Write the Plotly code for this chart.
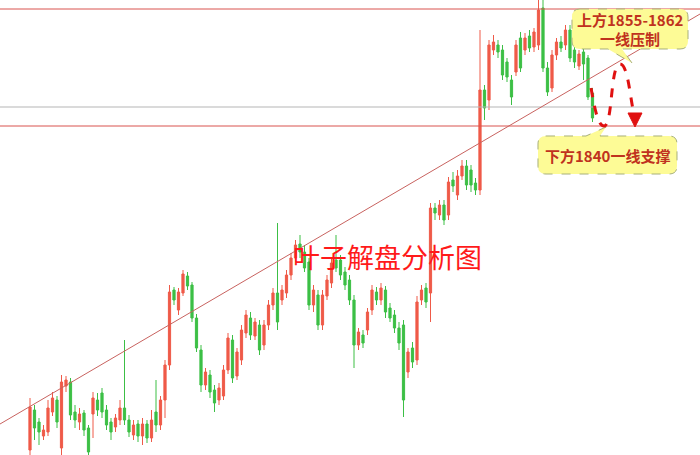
import plotly.graph_objects as go

W, H = 700, 455

# ---- candle data (price units) ----
open_ = [1775.2, 1783.2, 1780.8, 1778.0, 1778.8, 1782.8, 1785.2, 1775.6, 1788.0, 1788.8,
         1782.8, 1780.8, 1782.6, 1779.6, 1782.4, 1785.2, 1786.6, 1783.2, 1780.8, 1779.8,
         1781.2, 1783.6, 1781.2, 1778.2, 1780.4, 1778.0, 1780.4, 1777.6, 1782.8, 1780.2,
         1785.2, 1792.2, 1807.2, 1803.2, 1806.6, 1810.0, 1808.2, 1801.6, 1795.2, 1788.2,
         1790.2, 1787.2, 1785.2, 1786.0, 1791.2, 1797.2, 1790.0, 1793.2, 1798.6, 1801.6,
         1798.0, 1800.2, 1796.2, 1800.2, 1804.2, 1806.6, 1805.2, 1806.6, 1810.2, 1813.6,
         1816.4, 1814.8, 1812.8, 1804.2, 1806.2, 1800.2, 1806.0, 1808.6, 1813.2, 1813.2,
         1810.8, 1809.2, 1805.2, 1796.2, 1798.2, 1799.2, 1803.2, 1806.8, 1805.2, 1807.2,
         1803.6, 1802.2, 1799.6, 1800.2, 1790.8, 1795.6, 1793.2, 1805.2, 1807.6, 1806.6,
         1823.6, 1822.2, 1824.2, 1822.2, 1829.2, 1826.2, 1830.0, 1832.0, 1831.2, 1828.6,
         1827.2, 1847.2, 1845.2, 1855.2, 1856.2, 1855.2, 1852.8, 1849.2, 1850.8, 1857.6,
         1855.2, 1858.0, 1855.8, 1856.2, 1863.6, 1851.6, 1847.6, 1854.2, 1856.8, 1856.2,
         1859.2, 1855.2, 1852.0, 1854.8, 1853.6, 1846.6]
high_ = [1785.6, 1784.2, 1781.6, 1780.2, 1785.2, 1786.8, 1786.0, 1790.2, 1790.0, 1789.6,
         1784.2, 1783.6, 1783.2, 1780.2, 1786.8, 1786.6, 1787.6, 1784.2, 1781.6, 1782.4,
         1785.2, 1797.2, 1782.2, 1781.2, 1781.2, 1781.6, 1781.2, 1783.2, 1789.2, 1786.0,
         1793.2, 1808.2, 1807.8, 1807.6, 1811.2, 1810.8, 1808.8, 1802.4, 1796.2, 1791.6,
         1791.2, 1788.2, 1788.6, 1792.2, 1798.6, 1798.2, 1795.6, 1800.2, 1803.2, 1802.8,
         1801.6, 1801.2, 1801.2, 1805.2, 1807.6, 1820.6, 1808.2, 1811.2, 1814.6, 1817.2,
         1818.2, 1816.2, 1813.6, 1808.2, 1807.2, 1807.2, 1810.2, 1813.6, 1818.2, 1814.2,
         1811.8, 1810.2, 1806.2, 1799.6, 1799.2, 1803.6, 1808.2, 1807.8, 1808.6, 1808.0,
         1804.6, 1803.2, 1800.8, 1801.2, 1795.6, 1796.8, 1806.0, 1808.2, 1808.6, 1824.6,
         1824.6, 1825.2, 1825.2, 1829.8, 1830.8, 1831.2, 1833.2, 1833.2, 1832.2, 1829.6,
         1859.2, 1848.2, 1857.2, 1858.2, 1857.2, 1856.2, 1853.6, 1850.2, 1857.2, 1858.8,
         1858.6, 1859.2, 1859.6, 1866.0, 1866.0, 1852.8, 1855.2, 1857.6, 1858.0, 1860.2,
         1860.2, 1856.2, 1855.2, 1855.6, 1854.2, 1847.6]
low_ = [1773.0, 1777.2, 1776.2, 1777.2, 1778.0, 1782.0, 1779.6, 1774.0, 1786.8, 1781.2,
        1779.6, 1779.2, 1778.0, 1772.8, 1777.6, 1782.0, 1781.6, 1779.2, 1777.2, 1778.8,
        1780.2, 1780.2, 1777.8, 1777.2, 1776.8, 1776.2, 1776.6, 1776.8, 1778.8, 1779.2,
        1781.6, 1791.2, 1804.2, 1802.2, 1806.0, 1807.2, 1800.8, 1794.8, 1786.8, 1787.2,
        1785.6, 1782.8, 1784.2, 1785.2, 1790.4, 1788.6, 1789.2, 1792.2, 1797.6, 1797.2,
        1797.2, 1794.2, 1795.2, 1799.2, 1803.2, 1799.2, 1804.2, 1805.6, 1809.2, 1812.8,
        1813.6, 1810.8, 1803.2, 1802.8, 1799.2, 1799.2, 1805.2, 1807.6, 1810.8, 1809.2,
        1807.2, 1804.2, 1791.6, 1795.2, 1795.6, 1798.2, 1802.2, 1804.2, 1804.2, 1801.6,
        1800.8, 1798.6, 1795.2, 1781.8, 1789.6, 1791.6, 1792.2, 1804.2, 1803.6, 1800.8,
        1821.2, 1821.2, 1820.2, 1821.2, 1826.8, 1825.2, 1829.2, 1827.2, 1826.8, 1826.2,
        1826.2, 1841.2, 1843.2, 1854.2, 1853.6, 1849.2, 1848.8, 1844.2, 1850.0, 1850.8,
        1854.2, 1854.8, 1854.8, 1855.2, 1850.8, 1846.0, 1846.8, 1853.2, 1854.8, 1855.2,
        1852.8, 1851.6, 1851.2, 1849.2, 1845.2, 1840.8]
close_ = [1783.8, 1779.6, 1778.8, 1779.2, 1783.6, 1785.6, 1780.8, 1788.8, 1789.2, 1782.2,
          1781.2, 1782.4, 1779.2, 1774.8, 1785.6, 1783.2, 1782.8, 1780.2, 1778.8, 1781.6,
          1783.6, 1781.2, 1778.8, 1780.2, 1778.0, 1780.4, 1777.6, 1781.2, 1780.2, 1785.2,
          1792.2, 1806.8, 1805.2, 1806.8, 1810.4, 1808.0, 1801.6, 1795.6, 1788.2, 1790.8,
          1786.8, 1784.6, 1787.6, 1791.2, 1797.6, 1789.6, 1794.8, 1799.2, 1802.2, 1798.2,
          1800.8, 1795.2, 1800.2, 1804.2, 1806.6, 1800.8, 1807.2, 1810.2, 1813.6, 1816.2,
          1814.8, 1811.6, 1804.2, 1807.2, 1800.2, 1806.2, 1809.2, 1812.6, 1811.6, 1810.2,
          1808.2, 1805.2, 1796.2, 1798.8, 1796.6, 1802.8, 1807.2, 1805.2, 1807.6, 1802.8,
          1801.6, 1799.6, 1796.6, 1785.2, 1794.8, 1792.8, 1804.8, 1807.2, 1804.8, 1823.6,
          1822.6, 1824.2, 1821.2, 1828.8, 1828.0, 1830.0, 1832.0, 1828.2, 1828.2, 1827.2,
          1847.2, 1843.6, 1856.2, 1856.8, 1854.8, 1850.2, 1849.8, 1845.8, 1856.2, 1851.6,
          1857.6, 1855.6, 1858.8, 1863.2, 1851.6, 1846.8, 1854.2, 1856.8, 1855.6, 1859.2,
          1853.6, 1852.8, 1854.4, 1852.4, 1845.8, 1841.6]
idx = list(range(len(open_)))

# levels
resistance_top = 1863.4
mid_level = 1843.8
support = 1840.0
trend_start = (-6.67, 1780.4)
trend_end = (148.9, 1862.4)

watermark = "叶子解盘分析图"
top_label = ["上方1855-1862", "一线压制"]
bottom_label = "下方1840一线支撑"

X_RANGE = [-6.667, 148.89]
Y_RANGE = [1774.2, 1865.2]

fig = go.Figure(go.Candlestick(
    x=idx, open=open_, high=high_, low=low_, close=close_,
    increasing=dict(line=dict(color='#ef5a48', width=1), fillcolor='#ef5a48'),
    decreasing=dict(line=dict(color='#3cbf45', width=1), fillcolor='#3cbf45'),
    whiskerwidth=0, hoverinfo='skip'))


def pp(px, py):
    return f"{px / W:.5f},{1 - py / H:.5f}"


def box_path(x0, y0, x1, y1, r, tail_edge, t0, tip, t1):
    s = f"M{pp(x0 + r, y0)}"
    if tail_edge == 'top':
        s += f" L{pp(t0, y0)} L{pp(*tip)} L{pp(t1, y0)}"
    s += f" L{pp(x1 - r, y0)} Q{pp(x1, y0)} {pp(x1, y0 + r)}"
    s += f" L{pp(x1, y1 - r)} Q{pp(x1, y1)} {pp(x1 - r, y1)}"
    if tail_edge == 'bottom':
        s += f" L{pp(t1, y1)} L{pp(*tip)} L{pp(t0, y1)}"
    s += f" L{pp(x0 + r, y1)} Q{pp(x0, y1)} {pp(x0, y1 - r)}"
    s += f" L{pp(x0, y0 + r)} Q{pp(x0, y0)} {pp(x0 + r, y0)} Z"
    return s


shapes = [
    dict(type='line', xref='paper', x0=0, x1=1, yref='y', y0=resistance_top, y1=resistance_top,
         line=dict(color='#d9534f', width=1), layer='above'),
    dict(type='line', xref='paper', x0=0, x1=1, yref='y', y0=mid_level, y1=mid_level,
         line=dict(color='#b5b5b5', width=1), layer='above'),
    dict(type='line', xref='paper', x0=0, x1=1, yref='y', y0=support, y1=support,
         line=dict(color='#d9534f', width=1), layer='above'),
    dict(type='line', xref='x', yref='y', x0=trend_start[0], y0=trend_start[1],
         x1=trend_end[0], y1=trend_end[1], line=dict(color='#c8625f', width=1), layer='above'),
    # top callout
    dict(type='path', xref='paper', yref='paper',
         path=box_path(572, 9, 688, 49, 8, 'bottom', 608, (632, 63), 622),
         fillcolor='#fdfb96', line=dict(color='#a8b07a', width=1, dash='dash'), layer='above'),
    # bottom callout
    dict(type='path', xref='paper', yref='paper',
         path=box_path(538, 136, 677, 174, 8, 'top', 586, (606, 127), 600),
         fillcolor='#fdfb96', line=dict(color='#a8b07a', width=1, dash='dash'), layer='above'),
    # red dashed wave
    dict(type='path', xref='paper', yref='paper',
         path=(f"M{pp(591, 88)} C{pp(595, 110)} {pp(598, 126)} {pp(604, 126)}"
               f" C{pp(613, 126)} {pp(610, 64)} {pp(620, 64)}"
               f" C{pp(628, 64)} {pp(630, 98)} {pp(634, 114)}"),
         line=dict(color='#e01010', width=3, dash='dash'), layer='above'),
    dict(type='path', xref='paper', yref='paper',
         path=f"M{pp(628, 113)} L{pp(642, 113)} L{pp(635, 127)} Z",
         fillcolor='#e01010', line=dict(color='#e01010', width=1), layer='above'),
]

label_font = dict(family='Noto Sans CJK SC', size=15, color='#c0321e')
annotations = [
    dict(xref='paper', yref='paper', x=387 / W, y=1 - 256 / H, text=watermark, showarrow=False,
         font=dict(family='Noto Sans CJK SC', size=27, color='#ff1a1a'), xanchor='center', yanchor='middle'),
    dict(xref='paper', yref='paper', x=630 / W, y=1 - 20 / H, text=f"<b>{top_label[0]}</b>", showarrow=False,
         font=label_font, xanchor='center', yanchor='middle'),
    dict(xref='paper', yref='paper', x=630 / W, y=1 - 38 / H, text=f"<b>{top_label[1]}</b>", showarrow=False,
         font=label_font, xanchor='center', yanchor='middle'),
    dict(xref='paper', yref='paper', x=607 / W, y=1 - 155 / H, text=f"<b>{bottom_label}</b>", showarrow=False,
         font=label_font, xanchor='center', yanchor='middle'),
]

fig.update_layout(
    width=W, height=H, margin=dict(l=0, r=0, t=0, b=0),
    paper_bgcolor='white', plot_bgcolor='white', showlegend=False,
    xaxis=dict(range=X_RANGE, visible=False, rangeslider=dict(visible=False), fixedrange=True),
    yaxis=dict(range=Y_RANGE, visible=False, fixedrange=True),
    shapes=shapes, annotations=annotations, hovermode=False,
)

fig.write_html("out.html", config=dict(displayModeBar=False),
               post_script="document.body.style.margin='0';document.body.style.overflow='hidden';")
